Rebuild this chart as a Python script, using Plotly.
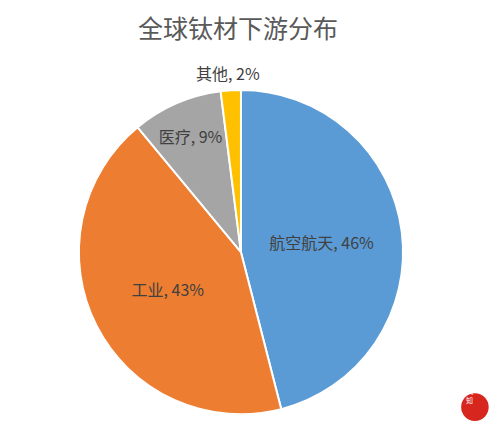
import plotly.graph_objects as go

categories = ["航空航天", "工业", "医疗", "其他"]
shares = [46, 43, 9, 2]
colors = ["#5B9BD5", "#ED7D31", "#A5A5A5", "#FFC000"]
text_pos = ["inside", "inside", "inside", "none"]

W, H = 492, 421  # page body adds an 8px margin

fig = go.Figure()
fig.add_trace(
    go.Pie(
        labels=categories,
        values=shares,
        sort=False,
        direction="clockwise",
        rotation=0,
        marker=dict(colors=colors, line=dict(color="white", width=2)),
        texttemplate="%{label}, %{value}%",
        textposition=text_pos,
        insidetextorientation="horizontal",
        textfont=dict(family="Noto Sans CJK SC", size=16, color="#404040"),
        hoverinfo="label+percent",
        domain=dict(x=[0.144, 0.803], y=[0.035, 0.805]),
        showlegend=False,
    )
)

# the small slice's label sits just above it, as in the source chart
fig.add_annotation(
    text=f"{categories[3]}, {shares[3]}%", xref="paper", yref="paper",
    x=0.447, y=0.846, xanchor="center", yanchor="middle", showarrow=False,
    font=dict(family="Noto Sans CJK SC", size=16, color="#404040"),
)

fig.update_layout(
    width=W,
    height=H,
    margin=dict(l=0, r=0, t=0, b=0),
    paper_bgcolor="white",
    plot_bgcolor="white",
    title=dict(
        text="全球钛材下游分布",
        x=0.4675,
        xanchor="center",
        y=0.95,
        yanchor="middle",
        font=dict(family="Noto Sans CJK SC", size=25, color="#595959"),
    ),
    uniformtext=dict(minsize=15, mode="show"),
)

# red seal at bottom-right corner
fig.add_shape(
    type="circle", xref="paper", yref="paper",
    x0=0.921, x1=0.977, y0=0.019, y1=0.085,
    fillcolor="#D7261E", line=dict(color="#D7261E", width=0),
)
fig.add_annotation(
    text="风<br>知", xref="paper", yref="paper", x=0.949, y=0.052,
    showarrow=False, font=dict(family="Noto Sans CJK SC", size=7, color="white"),
)

fig.write_html("out.html")
